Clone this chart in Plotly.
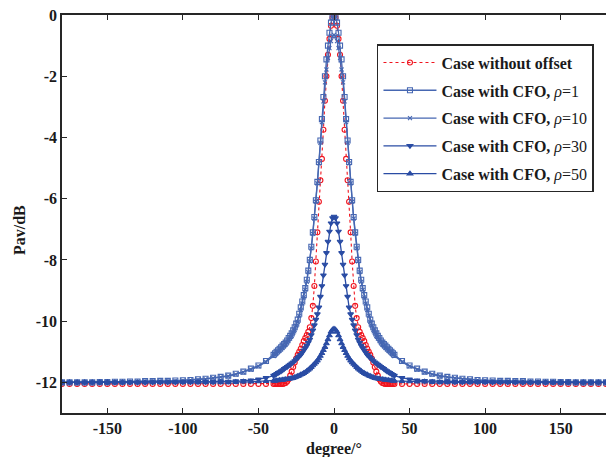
import plotly.graph_objects as go

# ---- data (degree vs Pav in dB) ----
DEG = [-180, -175, -170, -165, -160, -155, -150, -145, -140, -135, -130, -125, -120, -115,
       -110, -105, -100, -95, -90, -85, -80, -75, -70, -65, -60, -55, -50, -45,
       -40, -39, -38, -37, -36, -35, -34, -33, -32, -31, -30, -29, -28, -27, -26, -25, -24, -23, -22, -21,
       -20, -19, -18, -17, -16, -15, -14, -13, -12, -11, -10, -9, -8, -7, -6, -5, -4, -3, -2, -1,
       0,
       1, 2, 3, 4, 5, 6, 7, 8, 9, 10, 11, 12, 13, 14, 15, 16, 17, 18, 19, 20,
       21, 22, 23, 24, 25, 26, 27, 28, 29, 30, 31, 32, 33, 34, 35, 36, 37, 38, 39, 40,
       45, 50, 55, 60, 65, 70, 75, 80, 85, 90, 95, 100, 105, 110,
       115, 120, 125, 130, 135, 140, 145, 150, 155, 160, 165, 170, 175, 180]

NO_OFFSET = [
    -12.05, -12.05, -12.05, -12.05, -12.05, -12.05, -12.05, -12.05, -12.05, -12.05, -12.05, -12.05, -12.05, -12.05,
    -12.05, -12.05, -12.05, -12.05, -12.05, -12.05, -12.05, -12.05, -12.05, -12.05, -12.05, -12.05, -12.05, -12.05,
    -12.05, -12.05, -12.05, -12.05, -12.05, -12.05, -12.05, -12.04, -12.02, -11.97, -11.9, -11.78, -11.65, -11.5, -11.35, -11.22, -11.1, -11.0, -10.9, -10.78,
    -10.65, -10.55, -10.45, -10.35, -10.2, -9.9, -9.5, -8.85, -8.05, -7.1, -6.1, -5.4, -4.7, -3.75, -2.8, -2.0, -1.3, -0.78, -0.35, -0.09,
    0.0,
    -0.09, -0.35, -0.78, -1.3, -2.0, -2.8, -3.75, -4.7, -5.4, -6.1, -7.1, -8.05, -8.85, -9.5, -9.9, -10.2, -10.35, -10.45, -10.55, -10.65,
    -10.78, -10.9, -11.0, -11.1, -11.22, -11.35, -11.5, -11.65, -11.78, -11.9, -11.97, -12.02, -12.04, -12.05, -12.05, -12.05, -12.05, -12.05, -12.05, -12.05,
    -12.05, -12.05, -12.05, -12.05, -12.05, -12.05, -12.05, -12.05, -12.05, -12.05, -12.05, -12.05, -12.05, -12.05,
    -12.05, -12.05, -12.05, -12.05, -12.05, -12.05, -12.05, -12.05, -12.05, -12.05, -12.05, -12.05, -12.05, -12.05]

CFO_RHO1 = [
    -12.0, -12.0, -12.0, -12.0, -12.0, -11.99, -11.99, -11.98, -11.98, -11.97, -11.97, -11.96, -11.96, -11.95,
    -11.95, -11.94, -11.93, -11.92, -11.9, -11.88, -11.85, -11.82, -11.78, -11.72, -11.65, -11.55, -11.45, -11.3,
    -11.1, -11.05, -11.0, -10.95, -10.9, -10.85, -10.8, -10.75, -10.7, -10.63, -10.55, -10.48, -10.4, -10.3, -10.2, -10.08, -9.95, -9.76, -9.55, -9.36,
    -9.15, -8.92, -8.65, -8.35, -8.0, -7.57, -7.1, -6.6, -6.05, -5.45, -4.8, -4.1, -3.4, -2.68, -2.0, -1.45, -1.0, -0.58, -0.25, -0.06,
    0.0,
    -0.06, -0.25, -0.58, -1.0, -1.45, -2.0, -2.68, -3.4, -4.1, -4.8, -5.45, -6.05, -6.6, -7.1, -7.57, -8.0, -8.35, -8.65, -8.92, -9.15,
    -9.36, -9.55, -9.76, -9.95, -10.08, -10.2, -10.3, -10.4, -10.48, -10.55, -10.63, -10.7, -10.75, -10.8, -10.85, -10.9, -10.95, -11.0, -11.05, -11.1,
    -11.3, -11.45, -11.55, -11.65, -11.72, -11.78, -11.82, -11.85, -11.88, -11.9, -11.92, -11.93, -11.94, -11.95,
    -11.95, -11.96, -11.96, -11.97, -11.97, -11.98, -11.98, -11.99, -11.99, -12.0, -12.0, -12.0, -12.0, -12.0]

CFO_RHO10 = [
    -12.0, -12.0, -12.0, -12.0, -12.0, -11.99, -11.99, -11.99, -11.98, -11.98, -11.97, -11.97, -11.96, -11.96,
    -11.95, -11.95, -11.94, -11.93, -11.91, -11.89, -11.86, -11.83, -11.8, -11.74, -11.67, -11.58, -11.48, -11.33,
    -11.14, -11.1, -11.05, -11.0, -10.96, -10.92, -10.87, -10.82, -10.77, -10.7, -10.63, -10.56, -10.48, -10.38, -10.28, -10.15, -10.02, -9.83, -9.63, -9.43,
    -9.22, -8.98, -8.72, -8.4, -8.05, -7.62, -7.15, -6.65, -6.1, -5.5, -4.85, -4.18, -3.5, -2.82, -2.2, -1.78, -1.4, -1.08, -0.85, -0.7,
    -0.65,
    -0.7, -0.85, -1.08, -1.4, -1.78, -2.2, -2.82, -3.5, -4.18, -4.85, -5.5, -6.1, -6.65, -7.15, -7.62, -8.05, -8.4, -8.72, -8.98, -9.22,
    -9.43, -9.63, -9.83, -10.02, -10.15, -10.28, -10.38, -10.48, -10.56, -10.63, -10.7, -10.77, -10.82, -10.87, -10.92, -10.96, -11.0, -11.05, -11.1, -11.14,
    -11.33, -11.48, -11.58, -11.67, -11.74, -11.8, -11.83, -11.86, -11.89, -11.91, -11.93, -11.94, -11.95, -11.95,
    -11.96, -11.96, -11.97, -11.97, -11.98, -11.98, -11.99, -11.99, -11.99, -12.0, -12.0, -12.0, -12.0, -12.0]

CFO_RHO30 = [
    -12.0, -12.0, -12.0, -12.0, -12.0, -12.0, -12.0, -12.0, -12.0, -12.0, -12.0, -12.0, -11.99, -11.99,
    -11.99, -11.99, -11.98, -11.98, -11.98, -11.98, -11.98, -11.97, -11.97, -11.96, -11.95, -11.93, -11.9, -11.85,
    -11.78, -11.75, -11.72, -11.69, -11.66, -11.63, -11.6, -11.56, -11.52, -11.49, -11.45, -11.42, -11.38, -11.34, -11.3, -11.25, -11.2, -11.15, -11.1, -11.03,
    -10.95, -10.88, -10.8, -10.7, -10.6, -10.45, -10.3, -10.13, -9.95, -9.77, -9.55, -9.2, -8.85, -8.5, -8.15, -7.77, -7.4, -7.07, -6.8, -6.63,
    -6.58,
    -6.63, -6.8, -7.07, -7.4, -7.77, -8.15, -8.5, -8.85, -9.2, -9.55, -9.77, -9.95, -10.13, -10.3, -10.45, -10.6, -10.7, -10.8, -10.88, -10.95,
    -11.03, -11.1, -11.15, -11.2, -11.25, -11.3, -11.34, -11.38, -11.42, -11.45, -11.49, -11.52, -11.56, -11.6, -11.63, -11.66, -11.69, -11.72, -11.75, -11.78,
    -11.85, -11.9, -11.93, -11.95, -11.96, -11.97, -11.97, -11.98, -11.98, -11.98, -11.98, -11.98, -11.99, -11.99,
    -11.99, -11.99, -12.0, -12.0, -12.0, -12.0, -12.0, -12.0, -12.0, -12.0, -12.0, -12.0, -12.0, -12.0]

CFO_RHO50 = [
    -12.0, -12.0, -12.0, -12.0, -12.0, -12.0, -12.0, -12.0, -12.0, -12.0, -12.0, -12.0, -12.0, -12.0,
    -12.0, -12.0, -12.0, -12.0, -12.0, -12.0, -12.0, -12.0, -12.0, -11.99, -11.98, -11.98, -11.97, -11.96,
    -11.95, -11.95, -11.94, -11.94, -11.93, -11.93, -11.92, -11.91, -11.9, -11.9, -11.89, -11.88, -11.87, -11.86, -11.84, -11.82, -11.8, -11.78, -11.75, -11.73,
    -11.7, -11.67, -11.63, -11.59, -11.55, -11.5, -11.45, -11.4, -11.35, -11.29, -11.22, -11.14, -11.05, -10.95, -10.85, -10.73, -10.6, -10.47, -10.35, -10.28,
    -10.25,
    -10.28, -10.35, -10.47, -10.6, -10.73, -10.85, -10.95, -11.05, -11.14, -11.22, -11.29, -11.35, -11.4, -11.45, -11.5, -11.55, -11.59, -11.63, -11.67, -11.7,
    -11.73, -11.75, -11.78, -11.8, -11.82, -11.84, -11.86, -11.87, -11.88, -11.89, -11.9, -11.9, -11.91, -11.92, -11.93, -11.93, -11.94, -11.94, -11.95, -11.95,
    -11.96, -11.97, -11.98, -11.98, -11.99, -12.0, -12.0, -12.0, -12.0, -12.0, -12.0, -12.0, -12.0, -12.0,
    -12.0, -12.0, -12.0, -12.0, -12.0, -12.0, -12.0, -12.0, -12.0, -12.0, -12.0, -12.0, -12.0, -12.0]

X_TICKS = [-150, -100, -50, 0, 50, 100, 150]
X_TICK_TEXT = ["-150", "-100", "-50", "0", "50", "100", "150"]
Y_TICKS = [0, -2, -4, -6, -8, -10, -12]
Y_TICK_TEXT = ["0", "-2", "-4", "-6", "-8", "-10", "-12"]

NAMES = ["<b>Case without offset</b>",
         "<b>Case with CFO, </b><i>ρ</i>=1",
         "<b>Case with CFO, </b><i>ρ</i>=10",
         "<b>Case with CFO, </b><i>ρ</i>=30",
         "<b>Case with CFO, </b><i>ρ</i>=50"]

for arr in (NO_OFFSET, CFO_RHO1, CFO_RHO10, CFO_RHO30, CFO_RHO50):
    assert len(arr) == len(DEG), len(arr)

FONT = "Liberation Serif"
BLUE_LIGHT = "#4667b2"
BLUE_DARK = "#2a4ca4"
RED = "#f0141e"

fig = go.Figure()

fig.add_trace(go.Scatter(
    x=DEG, y=NO_OFFSET, name=NAMES[0], mode="lines+markers", legendgroup="g0",
    line=dict(color=RED, width=1.1, dash="dot"),
    marker=dict(symbol="circle-open", size=5, color=RED, line=dict(width=1.1, color=RED))))

specs = [
    (CFO_RHO1, NAMES[1], "square-open", BLUE_LIGHT, 5),
    (CFO_RHO10, NAMES[2], "x-thin-open", BLUE_LIGHT, 4),
    (CFO_RHO30, NAMES[3], "triangle-down", BLUE_DARK, 5),
    (CFO_RHO50, NAMES[4], "triangle-up", BLUE_DARK, 5),
]
for i, (vals, name, sym, col, sz) in enumerate(specs):
    fig.add_trace(go.Scatter(
        x=DEG, y=vals, name=name, mode="lines+markers", legendgroup=f"g{i+1}",
        line=dict(color=col, width=1.3),
        marker=dict(symbol=sym, size=sz, color=col, line=dict(width=1.1, color=col))))

axis_common = dict(
    showline=True, linecolor="#262626", linewidth=1.5,
    ticks="inside", ticklen=5, tickwidth=1, tickcolor="#262626",
    showgrid=False, zeroline=False,
    tickfont=dict(family=FONT, size=16, color="#1a1a1a", weight="bold"),
)

fig.update_layout(
    width=606, height=457,
    margin=dict(l=62, r=0, t=15, b=44),
    paper_bgcolor="white", plot_bgcolor="white",
    xaxis=dict(range=[-180, 180], tickvals=X_TICKS, ticktext=X_TICK_TEXT, mirror="ticks", **axis_common),
    yaxis=dict(range=[-13, 0], tickvals=Y_TICKS, ticktext=Y_TICK_TEXT, mirror=False, **axis_common),
    legend=dict(
        x=0.579, y=0.927, xanchor="left", yanchor="top",
        bgcolor="white", bordercolor="#262626", borderwidth=1.5,
        font=dict(family=FONT, size=16, color="#1a1a1a"),
        tracegroupgap=4, itemwidth=53,
    ),
    annotations=[
        dict(text="<b>Pav/dB</b>", xref="paper", yref="paper", x=-0.077, y=0.46,
             xanchor="center", yanchor="middle",
             textangle=-90, showarrow=False, font=dict(family=FONT, size=16, color="#1a1a1a")),
        dict(text="<b>degree/°</b>", xref="paper", yref="paper", x=0.5, y=-0.09,
             xanchor="center", yanchor="middle", showarrow=False,
             font=dict(family=FONT, size=16, color="#1a1a1a")),
    ],
)

fig.write_html("out.html", config={"displayModeBar": False},
               post_script="document.body.style.margin='0px';")
